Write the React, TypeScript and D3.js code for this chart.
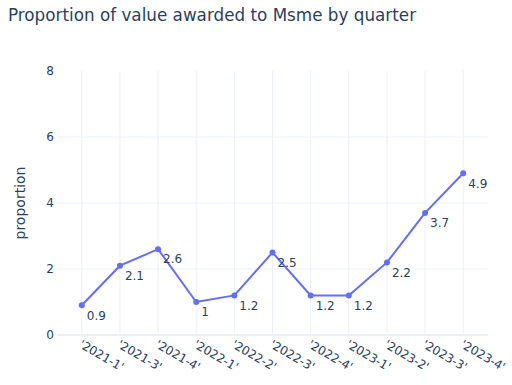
import React from "react";
import * as d3 from "d3";

const categories = ["'2021-1'", "'2021-3'", "'2021-4'", "'2022-1'", "'2022-2'", "'2022-3'", "'2022-4'", "'2023-1'", "'2023-2'", "'2023-3'", "'2023-4'"];
const values = [0.9, 2.1, 2.6, 1, 1.2, 2.5, 1.2, 1.2, 2.2, 3.7, 4.9];
const valueLabels = ["0.9", "2.1", "2.6", "1", "1.2", "2.5", "1.2", "1.2", "2.2", "3.7", "4.9"];
const yTicks = [0, 2, 4, 6, 8];

const W = 512, H = 385;
const L = 57, R = 488, T = 71, B = 335;
const FONT = "'DejaVu Sans', Verdana, sans-serif";
const TXT = "#2a3f5f";

export default function App() {
  const x = d3.scaleLinear().domain([-0.65, categories.length - 1 + 0.65]).range([L, R]);
  const y = d3.scaleLinear().domain([0, 8]).range([B, T]);
  const line = d3.line<number>().x((_, i) => x(i)).y(d => y(d));
  return (
    <svg width={W} height={H} style={{ position: "absolute", left: 0, top: 0, background: "#fff" }} fontFamily={FONT}>
      <rect x={0} y={0} width={W} height={H} fill="#fff" />
      {categories.map((c, i) => (
        <line key={"vg" + i} x1={x(i)} x2={x(i)} y1={T} y2={B} stroke="#EBF0F8" strokeWidth={1} />
      ))}
      {yTicks.filter(t => t !== 0 && t !== 8).map(t => (
        <line key={"hg" + t} x1={L} x2={R} y1={y(t)} y2={y(t)} stroke="#EBF0F8" strokeWidth={1} />
      ))}
      <line x1={L} x2={R} y1={y(0)} y2={y(0)} stroke="#EBF0F8" strokeWidth={2} />
      {yTicks.map(t => (
        <text key={"yt" + t} x={L - 3} y={y(t)} dy="0.35em" textAnchor="end" fontSize={12} fill={TXT}>{t}</text>
      ))}
      {categories.map((c, i) => (
        <text key={"xt" + i} transform={`translate(${x(i) + 1},${B + 4}) rotate(30)`} dy="0.75em" fontSize={12} fill={TXT}>{c}</text>
      ))}
      <text transform={`translate(20,${(T + B) / 2}) rotate(-90)`} textAnchor="middle" dy="0.35em" fontSize={14} fill={TXT}>proportion</text>
      <path d={line(values) || ""} fill="none" stroke="#636efa" strokeWidth={2} />
      {values.map((v, i) => (
        <circle key={"m" + i} cx={x(i)} cy={y(v)} r={3} fill="#636efa" />
      ))}
      {values.map((v, i) => (
        <text key={"l" + i} x={x(i) + 5} y={y(v) + 10} dy="0.35em" fontSize={12} fill={TXT}>{valueLabels[i]}</text>
      ))}
      <text x={8} y={21} fontSize={16.8} fill={TXT}>Proportion of value awarded to Msme by quarter</text>
    </svg>
  );
}
